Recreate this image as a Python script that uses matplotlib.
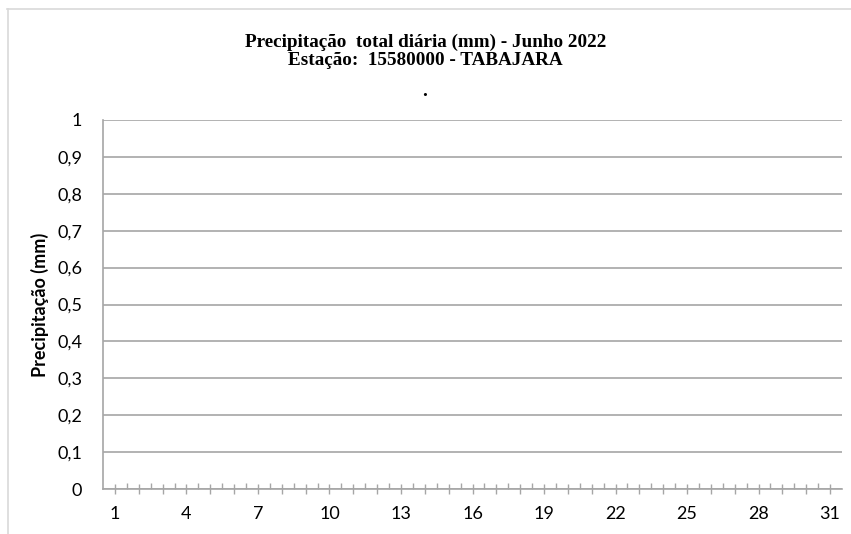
import matplotlib
matplotlib.use("Agg")
import matplotlib.pyplot as plt
from matplotlib.lines import Line2D
from matplotlib.ticker import FixedLocator, FuncFormatter
import numpy as np

# daily totals for June 2022 - no readings recorded
days = list(range(1, 32))
precip = [np.nan] * 31
label_days = list(range(1, 32, 3))
y_ticks = [0, 0.1, 0.2, 0.3, 0.4, 0.5, 0.6, 0.7, 0.8, 0.9, 1.0]

title = "Precipitação  total diária (mm) - Junho 2022\nEstação:  15580000 - TABAJARA"
ylabel = "Precipitação (mm)"

grid_col = "#a6a6a6"
sans = ["Lato", "DejaVu Sans"]

fig = plt.figure(figsize=(8.51, 5.34), dpi=100)
ax = fig.add_axes([103 / 851, 45 / 534, 739 / 851, 369 / 534])

ax.plot(days, precip, color="#4472c4", linewidth=2)

ax.set_xlim(0.5, 31.5)
ax.set_ylim(0, 1)
ax.set_yticks(y_ticks)
ax.yaxis.set_major_formatter(FuncFormatter(
    lambda v, p: "0" if v == 0 else ("1" if v == 1 else f"{v:.1f}".replace(".", ","))))
ax.xaxis.set_major_locator(FixedLocator(days))
ax.xaxis.set_minor_locator(FixedLocator([d + 0.5 for d in days[:-1]]))
ax.xaxis.set_major_formatter(FuncFormatter(
    lambda v, p: str(int(round(v))) if int(round(v)) in label_days else ""))

ax.grid(axis="y", color=grid_col, linewidth=1.2)
ax.set_axisbelow(True)
for s in ["top", "right"]:
    ax.spines[s].set_visible(False)
for s in ["left", "bottom"]:
    ax.spines[s].set_color(grid_col)
    ax.spines[s].set_linewidth(1.2)

ax.tick_params(axis="y", length=0, pad=15, labelsize=13)
ax.tick_params(axis="x", which="major", direction="inout", length=7,
               color=grid_col, width=1, pad=9, labelsize=13)
ax.tick_params(axis="x", which="minor", direction="in", length=4,
               color=grid_col, width=1)
for lab in ax.get_xticklabels() + ax.get_yticklabels():
    lab.set_family(sans)

ax.set_ylabel(ylabel, family=sans, fontsize=13, fontweight="bold", labelpad=6)

fig.text(0.5, 1 - 51 / 534, title, ha="center", va="center",
         family=["Liberation Serif", "DejaVu Serif"], fontweight="bold",
         fontsize=13.8, linespacing=1.1)
fig.text(425 / 851, 1 - 91 / 534, ".", ha="center", va="center",
         family=["Liberation Serif", "DejaVu Serif"], fontweight="bold", fontsize=13.8)

# outer chart frame (top and left edges visible)
frame = "#d9d9d9"
fig.add_artist(Line2D([7 / 851, 1], [1 - 9 / 534] * 2, color=frame, linewidth=1.2,
                      transform=fig.transFigure))
fig.add_artist(Line2D([8 / 851] * 2, [0, 1 - 9 / 534], color=frame, linewidth=1.2,
                      transform=fig.transFigure))

fig.savefig("out.png", dpi=100)
